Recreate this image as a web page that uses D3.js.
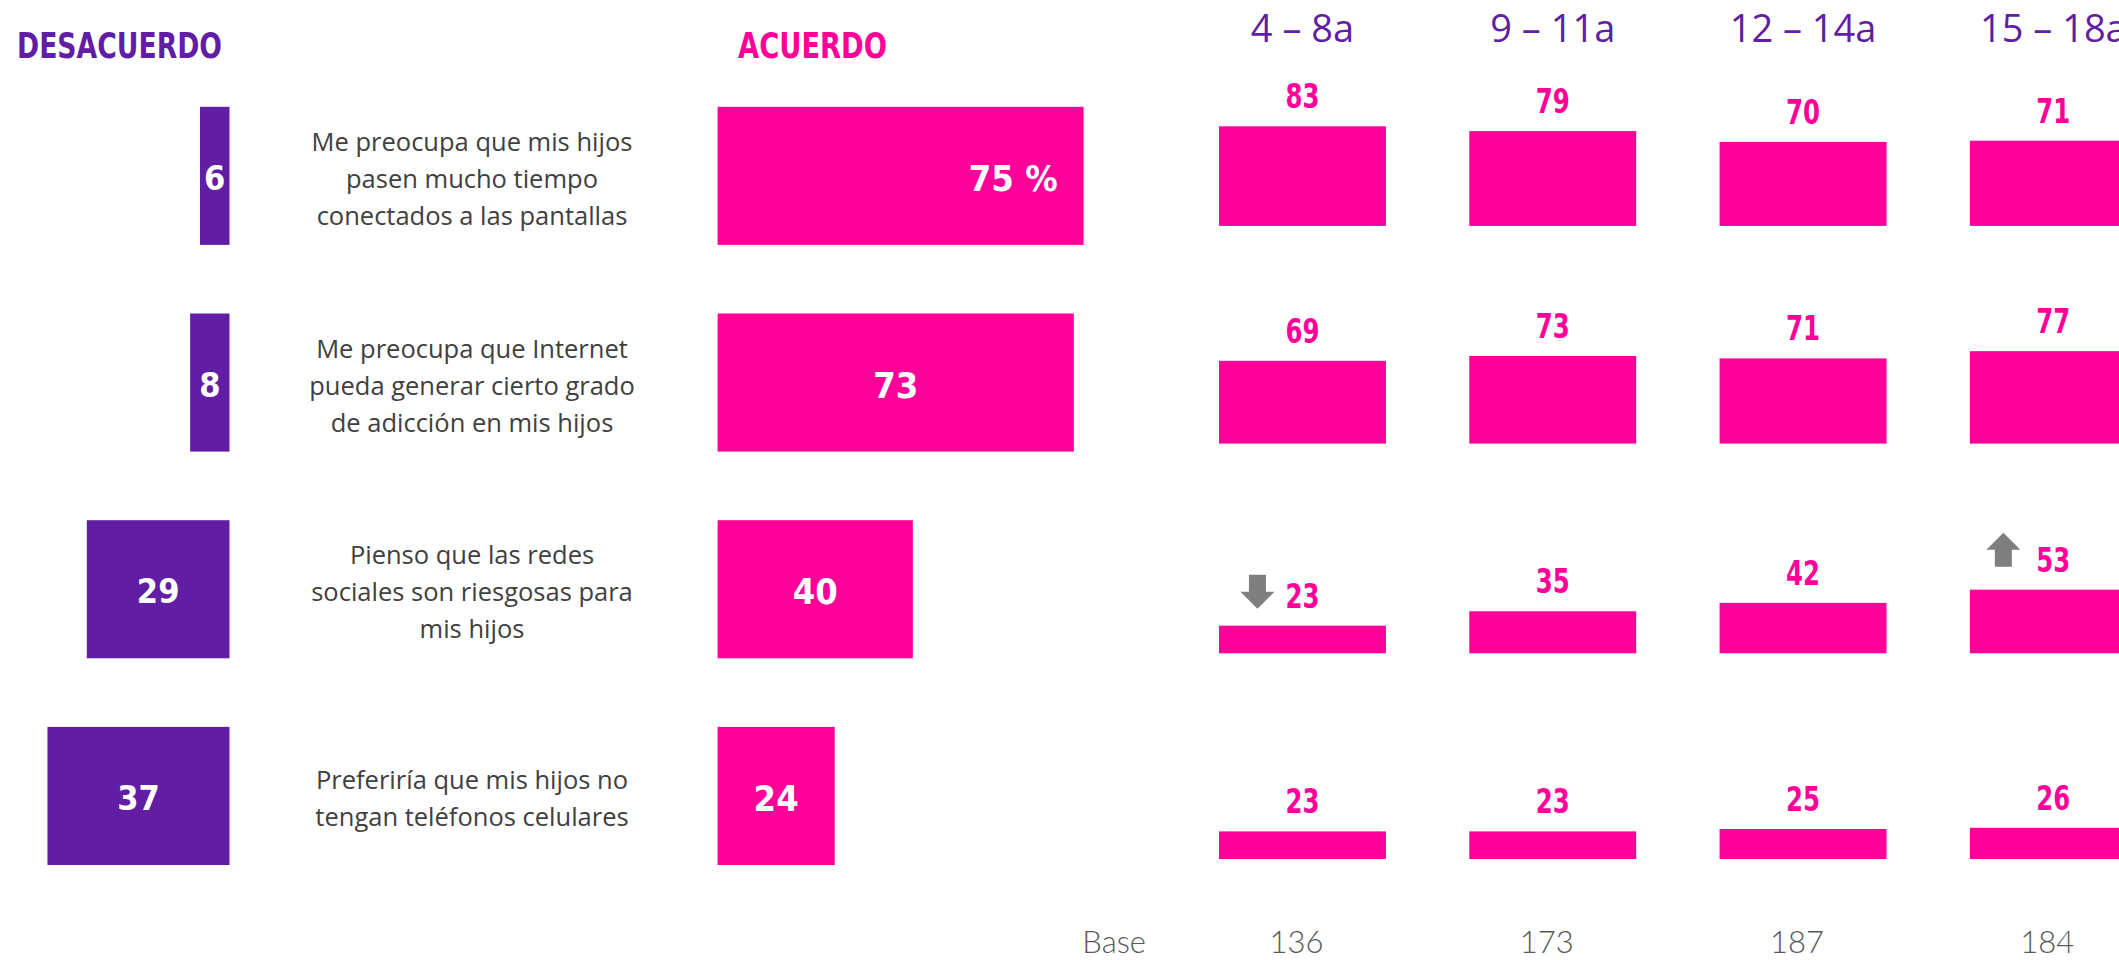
<!DOCTYPE html>
<html>
<head>
<meta charset="utf-8">
<script src="https://cdn.jsdelivr.net/npm/d3@7"></script>
<style>
  html, body { margin: 0; padding: 0; background: #ffffff; }
  svg { display: block; }
</style>
</head>
<body>
<svg id="chart" width="2119" height="960"></svg>
<script>
// ---------------- DATA ----------------
const statements = [
  ["Me preocupa que mis hijos", "pasen mucho tiempo", "conectados a las pantallas"],
  ["Me preocupa que Internet", "pueda generar cierto grado", "de adicción en mis hijos"],
  ["Pienso que las redes", "sociales son riesgosas para", "mis hijos"],
  ["Preferiría que mis hijos no", "tengan teléfonos celulares"]
];
const desacuerdo = [6, 8, 29, 37];
const acuerdo = [75, 73, 40, 24];
const ageGroups = ["4 – 8a", "9 – 11a", "12 – 14a", "15 – 18a"];
const age4to8 = [83, 69, 23, 23];
const age9to11 = [79, 73, 35, 23];
const age12to14 = [70, 71, 42, 25];
const age15to18 = [71, 77, 53, 26];
const bases = [136, 173, 187, 184];
// significance marks: -1 = significantly lower, 1 = significantly higher
const sig4to8 = [0, 0, -1, 0];
const sig9to11 = [0, 0, 0, 0];
const sig12to14 = [0, 0, 0, 0];
const sig15to18 = [0, 0, 1, 0];
const headerLeft = "DESACUERDO";
const headerRight = "ACUERDO";
const baseLabel = "Base";

const ageValues = [age4to8, age9to11, age12to14, age15to18];
const ageSig = [sig4to8, sig9to11, sig12to14, sig15to18];

// ---------------- STYLE / LAYOUT ----------------
const PINK = "#FF0099";
const PURPLE = "#621DA5";
const TEXT = "#404040";
const GREY_ARROW = "#7F7F7F";
const condensedBold = "'Liberation Sans Narrow', 'DejaVu Sans Condensed', 'Arial Narrow', sans-serif";

const svg = d3.select("#chart");
const rows = d3.range(statements.length);

// row bands
const yRow = d3.scaleBand().domain(rows).range([72.5, 899.3]).paddingInner(0.332).paddingOuter(0.166);
// big bars
const xAcuerdo = d3.scaleLinear().domain([0, 100]).range([717.6, 717.6 + 488]);
const xDesacuerdo = d3.scaleLinear().domain([0, 100]).range([229.5, 229.5 - 492]);
// small multiples
const xAge = d3.scaleBand().domain(ageGroups).range([1177.3, 2178.5]).paddingInner(0.333).paddingOuter(0.1665);
const hAge = d3.scaleLinear().domain([0, 100]).range([0, 120]);
const rowBaseShift = [-19, -8, -5, -6];
const smallBase = r => yRow(r) + yRow.bandwidth() + rowBaseShift[r];

// ---------------- HEADERS ----------------
svg.append("text")
  .attr("x", 17).attr("y", 58)
  .attr("textLength", 205).attr("lengthAdjust", "spacingAndGlyphs")
  .style("font-family", "'DejaVu Sans Condensed', sans-serif")
  .style("font-weight", "bold").style("font-size", "35px")
  .attr("fill", PURPLE).text(headerLeft);

svg.append("text")
  .attr("x", 738).attr("y", 58)
  .attr("textLength", 149).attr("lengthAdjust", "spacingAndGlyphs")
  .style("font-family", "'DejaVu Sans Condensed', sans-serif")
  .style("font-weight", "bold").style("font-size", "35px")
  .attr("fill", PINK).text(headerRight);

svg.append("g").selectAll("text").data(ageGroups).join("text")
  .attr("x", d => xAge(d) + xAge.bandwidth() / 2)
  .attr("y", 42)
  .attr("text-anchor", "middle")
  .style("font-family", "'Open Sans', sans-serif")
  .style("font-size", "38px")
  .attr("fill", PURPLE)
  .text(d => d);

// ---------------- DESACUERDO BARS ----------------
const gD = svg.append("g");
gD.selectAll("rect").data(desacuerdo).join("rect")
  .attr("x", d => xDesacuerdo(d))
  .attr("y", (d, i) => yRow(i))
  .attr("width", d => xDesacuerdo(0) - xDesacuerdo(d))
  .attr("height", yRow.bandwidth())
  .attr("fill", PURPLE);
gD.selectAll("text").data(desacuerdo).join("text")
  .attr("x", d => (xDesacuerdo(d) + xDesacuerdo(0)) / 2)
  .attr("y", (d, i) => yRow(i) + yRow.bandwidth() / 2 + 14)
  .attr("text-anchor", "middle")
  .style("font-family", condensedBold)
  .style("font-weight", "bold").style("font-size", "34px")
  .attr("fill", "#ffffff")
  .text(d => d);

// ---------------- STATEMENTS ----------------
const lineH = 37;
const gS = svg.append("g");
statements.forEach((lines, r) => {
  const cy = yRow(r) + yRow.bandwidth() / 2;
  const n = lines.length;
  gS.append("g").selectAll("text").data(lines).join("text")
    .attr("x", 472)
    .attr("y", (d, i) => cy + 12 + (i - (n - 1) / 2) * lineH)
    .attr("text-anchor", "middle")
    .style("font-family", "'Open Sans', sans-serif")
    .style("font-size", "25.5px")
    .attr("fill", TEXT)
    .text(d => d);
});

// ---------------- ACUERDO BARS ----------------
const gA = svg.append("g");
gA.selectAll("rect").data(acuerdo).join("rect")
  .attr("x", xAcuerdo(0))
  .attr("y", (d, i) => yRow(i))
  .attr("width", d => xAcuerdo(d) - xAcuerdo(0))
  .attr("height", yRow.bandwidth())
  .attr("fill", PINK);
gA.selectAll("text").data(acuerdo).join("text")
  .attr("x", (d, i) => i === 0 ? xAcuerdo(d) - 26 : (xAcuerdo(0) + xAcuerdo(d)) / 2)
  .attr("y", (d, i) => yRow(i) + yRow.bandwidth() / 2 + 15)
  .attr("text-anchor", (d, i) => i === 0 ? "end" : "middle")
  .style("font-family", condensedBold)
  .style("font-weight", "bold").style("font-size", "36px")
  .attr("fill", "#ffffff")
  .text((d, i) => i === 0 ? d + " %" : d);

// ---------------- AGE SMALL MULTIPLES ----------------
const gAge = svg.append("g");
ageGroups.forEach((age, c) => {
  const vals = ageValues[c];
  const sigs = ageSig[c];
  const x0 = xAge(age);
  const cx = x0 + xAge.bandwidth() / 2;
  const g = gAge.append("g");
  g.selectAll("rect").data(vals).join("rect")
    .attr("x", x0)
    .attr("y", (d, r) => smallBase(r) - hAge(d))
    .attr("width", xAge.bandwidth())
    .attr("height", d => hAge(d))
    .attr("fill", PINK);
  g.selectAll("text").data(vals).join("text")
    .attr("x", cx)
    .attr("y", (d, r) => smallBase(r) - hAge(d) - 18)
    .attr("text-anchor", "middle")
    .attr("textLength", d => String(d).length * 17)
    .attr("lengthAdjust", "spacingAndGlyphs")
    .style("font-family", condensedBold)
    .style("font-weight", "bold").style("font-size", "33px")
    .attr("fill", PINK)
    .text(d => d);
  // significance arrows
  vals.forEach((d, r) => {
    const s = sigs[r];
    if (!s) return;
    const baseY = smallBase(r) - hAge(d) - 18;
    const ax = cx - (s < 0 ? 45 : 50);
    const w = 34, sw = 17, hh = 17, H = 34;
    let p;
    if (s < 0) {
      const top = baseY - 33;
      p = [[ax - sw / 2, top], [ax + sw / 2, top], [ax + sw / 2, top + H - hh], [ax + w / 2, top + H - hh],
           [ax, top + H], [ax - w / 2, top + H - hh], [ax - sw / 2, top + H - hh]];
    } else {
      const top = baseY - 39;
      p = [[ax, top], [ax + w / 2, top + hh], [ax + sw / 2, top + hh], [ax + sw / 2, top + H],
           [ax - sw / 2, top + H], [ax - sw / 2, top + hh], [ax - w / 2, top + hh]];
    }
    g.append("path").attr("d", d3.line()(p) + "Z").attr("fill", GREY_ARROW);
  });
});

// ---------------- BASE ROW ----------------
svg.append("text")
  .attr("x", 1146).attr("y", 953)
  .attr("text-anchor", "end")
  .style("font-family", "Lato, 'Open Sans', sans-serif")
  .style("font-weight", 300).style("font-size", "31px")
  .attr("fill", "#595959")
  .text(baseLabel);
svg.append("g").selectAll("text").data(bases).join("text")
  .attr("x", (d, i) => xAge(ageGroups[i]) + xAge.bandwidth() / 2 - 6)
  .attr("y", 953)
  .attr("text-anchor", "middle")
  .style("font-family", "Lato, 'Open Sans', sans-serif")
  .style("font-weight", 300).style("font-size", "31px")
  .attr("fill", "#595959")
  .text(d => d);
</script>
</body>
</html>
